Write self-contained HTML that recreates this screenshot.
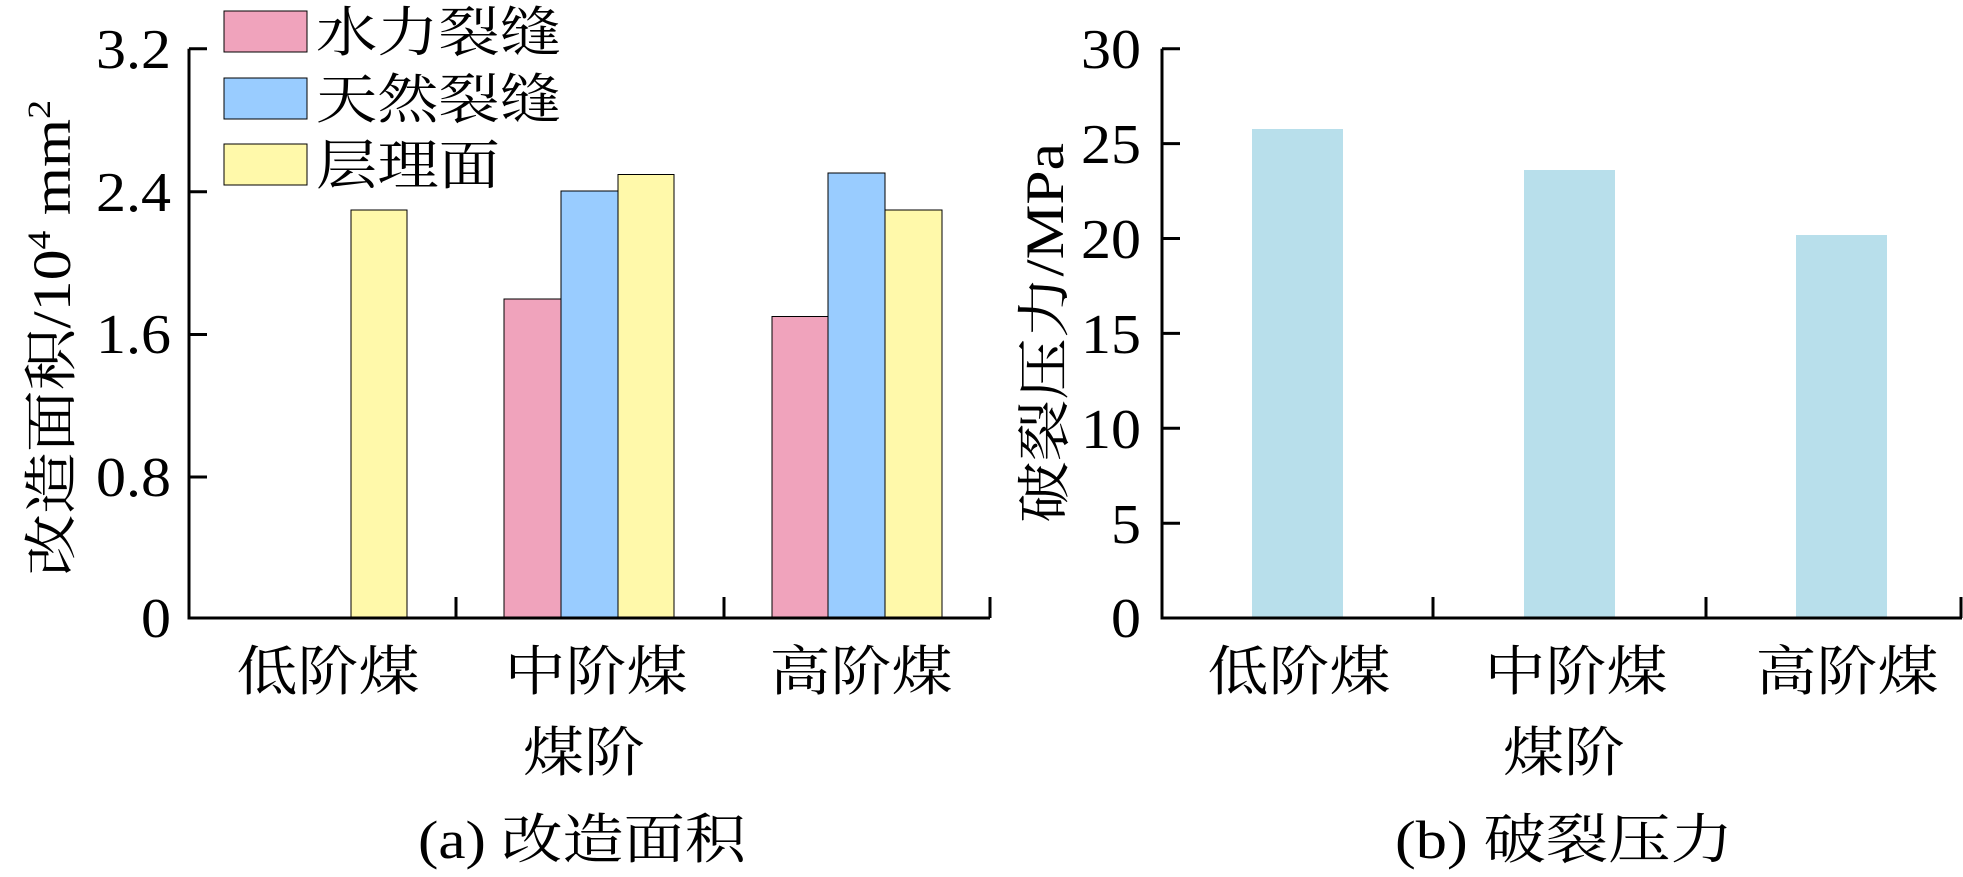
<!DOCTYPE html>
<html><head><meta charset="utf-8"><style>
html,body{margin:0;padding:0;background:#fff;}
svg{display:block;}
text{font-family:"Liberation Serif","Noto Serif CJK SC","Noto Sans CJK SC",serif;fill:#000;}
</style></head><body>
<svg width="1963" height="877" viewBox="0 0 1963 877" xmlns="http://www.w3.org/2000/svg">
<!-- Left chart -->
<g stroke="#000" stroke-width="1">
<rect x="351" y="210" width="56" height="408" fill="#fff9aa"/>
<rect x="504" y="299" width="57" height="319" fill="#f0a3bc"/>
<rect x="561" y="191" width="57" height="427" fill="#99ccff"/>
<rect x="618" y="174.5" width="56" height="443.5" fill="#fff9aa"/>
<rect x="772" y="316.5" width="56" height="301.5" fill="#f0a3bc"/>
<rect x="828" y="173" width="57" height="445" fill="#99ccff"/>
<rect x="885" y="210" width="57" height="408" fill="#fff9aa"/>
<rect x="224" y="11" width="83" height="41" fill="#f0a3bc"/>
<rect x="224" y="78" width="83" height="41" fill="#99ccff"/>
<rect x="224" y="144" width="83" height="41" fill="#fff9aa"/>
</g>
<g stroke="#000" stroke-width="3" fill="none">
<path d="M189 48.7V618H990"/>
<path d="M189 48.7h18M189 191.8h18M189 334.5h18M189 477h18"/>
<path d="M456 597v21M724 597v21M990 597v21"/>
</g>
<g font-size="56" text-anchor="end">
<text x="171" y="68" textLength="75" lengthAdjust="spacingAndGlyphs">3.2</text>
<text x="171" y="211" textLength="75" lengthAdjust="spacingAndGlyphs">2.4</text>
<text x="171" y="353" textLength="75" lengthAdjust="spacingAndGlyphs">1.6</text>
<text x="171" y="496" textLength="75" lengthAdjust="spacingAndGlyphs">0.8</text>
<text x="171" y="637" textLength="30" lengthAdjust="spacingAndGlyphs">0</text>
</g>
<g font-size="54">
<text x="316" y="51" textLength="245" lengthAdjust="spacingAndGlyphs">水力裂缝</text>
<text x="316" y="118" textLength="245" lengthAdjust="spacingAndGlyphs">天然裂缝</text>
<text x="316" y="184" textLength="184" lengthAdjust="spacingAndGlyphs">层理面</text>
</g>
<g font-size="54" text-anchor="middle">
<text x="328" y="690" textLength="183" lengthAdjust="spacingAndGlyphs">低阶煤</text>
<text x="596" y="690" textLength="183" lengthAdjust="spacingAndGlyphs">中阶煤</text>
<text x="861" y="690" textLength="183" lengthAdjust="spacingAndGlyphs">高阶煤</text>
<text x="584" y="771" textLength="122" lengthAdjust="spacingAndGlyphs">煤阶</text>
<text x="582" y="858" textLength="328" lengthAdjust="spacingAndGlyphs">(a) 改造面积</text>
</g>
<text font-size="54" text-anchor="middle" transform="translate(70,338) rotate(-90)" textLength="476" lengthAdjust="spacingAndGlyphs">改造面积/10<tspan font-size="33" dy="-20">4</tspan><tspan dy="20"> mm</tspan><tspan font-size="33" dy="-20">2</tspan></text>

<!-- Right chart -->
<g fill="#b8dfeb">
<rect x="1252" y="129" width="91" height="489"/>
<rect x="1524" y="170" width="91" height="448"/>
<rect x="1796" y="235" width="91" height="383"/>
</g>
<g stroke="#000" stroke-width="3" fill="none">
<path d="M1162 48.7V618H1962"/>
<path d="M1162 48.7h18M1162 143.6h18M1162 238.5h18M1162 333.4h18M1162 428.3h18M1162 523.2h18"/>
<path d="M1433 597v21M1706 597v21M1961 597v21"/>
</g>
<g font-size="56" text-anchor="end">
<text x="1141" y="68" textLength="60" lengthAdjust="spacingAndGlyphs">30</text>
<text x="1141" y="163" textLength="60" lengthAdjust="spacingAndGlyphs">25</text>
<text x="1141" y="258" textLength="60" lengthAdjust="spacingAndGlyphs">20</text>
<text x="1141" y="353" textLength="60" lengthAdjust="spacingAndGlyphs">15</text>
<text x="1141" y="448" textLength="60" lengthAdjust="spacingAndGlyphs">10</text>
<text x="1141" y="543" textLength="30" lengthAdjust="spacingAndGlyphs">5</text>
<text x="1141" y="637" textLength="30" lengthAdjust="spacingAndGlyphs">0</text>
</g>
<g font-size="54" text-anchor="middle">
<text x="1299" y="690" textLength="183" lengthAdjust="spacingAndGlyphs">低阶煤</text>
<text x="1576" y="690" textLength="183" lengthAdjust="spacingAndGlyphs">中阶煤</text>
<text x="1847" y="690" textLength="183" lengthAdjust="spacingAndGlyphs">高阶煤</text>
<text x="1564" y="771" textLength="122" lengthAdjust="spacingAndGlyphs">煤阶</text>
<text x="1564" y="858" textLength="338" lengthAdjust="spacingAndGlyphs">(b) 破裂压力</text>
</g>
<text font-size="54" text-anchor="middle" transform="translate(1063,333) rotate(-90)" textLength="380" lengthAdjust="spacingAndGlyphs">破裂压力/MPa</text>
</svg>
</body></html>
